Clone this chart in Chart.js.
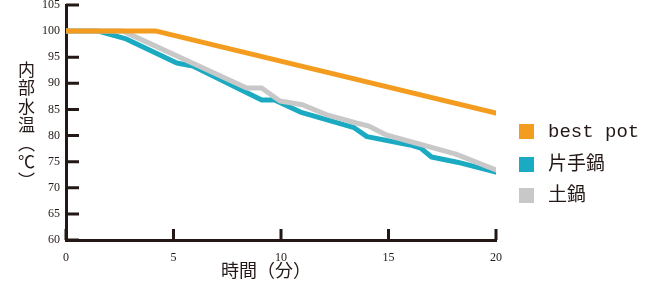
<!DOCTYPE html>
<html>
<head>
<meta charset="utf-8">
<script src="https://cdn.jsdelivr.net/npm/chart.js@4"></script>
<style>
  body { margin: 0; background: #fff; }
  #wrap { position: relative; width: 657px; height: 286px; }
  .ytitle { position: absolute; left: 14px; top: 61px; writing-mode: vertical-rl; font-family: "Noto Sans CJK JP"; font-size: 17px; letter-spacing: 1.5px; color: #231815; }
  .xtitle { position: absolute; left: 221px; top: 258px; font-family: "Noto Sans CJK JP"; font-size: 18px; line-height: 22px; color: #231815; }
  .legend { position: absolute; left: 519px; top: 120px; font-size: 19px; color: #231815; }
  .legend div { height: 31px; line-height: 22px; white-space: pre; }
  .legend span { display: inline-block; width: 15px; height: 15px; margin-right: 14px; vertical-align: -2px; }
  .legend .en { font-family: "Liberation Mono"; }
  .legend .ja { font-family: "Noto Sans CJK JP"; }
</style>
</head>
<body>
<div id="wrap">
  <canvas id="c"></canvas>
  <div class="ytitle">内部水温（℃）</div>
  <div class="xtitle">時間（分）</div>
  <div class="legend" id="legend"></div>
</div>
<script>
var seriesNames = ["best pot", "片手鍋", "土鍋"];
var seriesColors = ["#f39c1f", "#1aaac2", "#c8c8c8"];

var bestTimes = [0, 4.2, 20];
var bestTemps = [100, 100, 84.3];

var panTimes = [0, 1.5, 2.8, 5.15, 5.9, 9.1, 9.7, 10.9, 13.4, 14.0, 16.0, 16.5, 17.0, 18.2, 20];
var panTemps = [100, 100, 98.5, 93.9, 93.3, 86.8, 86.8, 84.5, 81.5, 79.8, 78.2, 77.6, 75.9, 74.9, 73.0];

var claypotTimes = [0, 2.65, 8.4, 9.1, 9.95, 11.0, 12.1, 13.5, 14.1, 14.9, 18.1, 20];
var claypotTemps = [100, 100, 89.1, 89.1, 86.6, 85.9, 84.0, 82.4, 81.8, 80.1, 76.5, 73.4];

var xTicks = [0, 5, 10, 15, 20];
var yTicks = [60, 65, 70, 75, 80, 85, 90, 95, 100, 105];

function toPoints(times, temps) {
    return times.map(function(t, i) { return { x: t, y: temps[i] }; });
}

function lineSet(i, times, temps, order) {
    return {
        label: seriesNames[i],
        data: toPoints(times, temps),
        borderColor: seriesColors[i],
        backgroundColor: seriesColors[i],
        borderWidth: 5,
        borderCapStyle: 'round',
        borderJoinStyle: 'round',
        pointRadius: 0,
        tension: 0,
        order: order
    };
}

var axisColor = '#231815';

// short tick marks pointing into the plot
var innerTicks = {
    id: 'innerTicks',
    beforeDatasetsDraw: function(chart) {
        var ctx = chart.ctx, xs = chart.scales.x, ys = chart.scales.y;
        ctx.save();
        ctx.strokeStyle = axisColor;
        ctx.lineWidth = 3;
        ctx.beginPath();
        yTicks.forEach(function(v) {
            var py = ys.getPixelForValue(v);
            ctx.moveTo(xs.left, py);
            ctx.lineTo(xs.left + 13, py);
        });
        xTicks.forEach(function(v) {
            var px = xs.getPixelForValue(v);
            ctx.moveTo(px, ys.bottom);
            ctx.lineTo(px, ys.bottom - 11);
        });
        ctx.stroke();
        ctx.restore();
    }
};

var tickFont = { family: 'Liberation Serif', size: 12 };

new Chart(document.getElementById('c'), {
    type: 'line',
    data: {
        datasets: [
            lineSet(0, bestTimes, bestTemps, 0),
            lineSet(1, panTimes, panTemps, 2),
            lineSet(2, claypotTimes, claypotTemps, 1)
        ]
    },
    options: {
        responsive: true,
        maintainAspectRatio: false,
        animation: false,
        layout: { padding: { left: 0, right: 161, top: 5, bottom: 0 } },
        plugins: { legend: { display: false }, tooltip: { enabled: false } },
        scales: {
            x: {
                type: 'linear',
                min: 0, max: 20,
                afterBuildTicks: function(s) { s.ticks = xTicks.map(function(v) { return { value: v }; }); },
                afterFit: function(s) { s.height = 46; s.paddingLeft = 0; s.paddingRight = 0; },
                grid: { display: false, drawTicks: false },
                border: { display: true, color: axisColor, width: 3 },
                ticks: { font: tickFont, color: axisColor, padding: 11, maxRotation: 0 }
            },
            y: {
                min: 60, max: 105,
                afterBuildTicks: function(s) { s.ticks = yTicks.map(function(v) { return { value: v }; }); },
                afterFit: function(s) { s.width = 66; s.paddingTop = 0; s.paddingBottom = 0; },
                grid: { display: false, drawTicks: false },
                border: { display: true, color: axisColor, width: 3 },
                ticks: { font: tickFont, color: axisColor, padding: 6 }
            }
        }
    },
    plugins: [innerTicks]
});

var legend = document.getElementById('legend');
seriesNames.forEach(function(name, i) {
    var row = document.createElement('div');
    var sw = document.createElement('span');
    sw.style.background = seriesColors[i];
    var txt = document.createElement('b');
    txt.style.fontWeight = 'normal';
    txt.className = i === 0 ? 'en' : 'ja';
    txt.textContent = name;
    row.appendChild(sw);
    row.appendChild(txt);
    legend.appendChild(row);
});
</script>
</body>
</html>
